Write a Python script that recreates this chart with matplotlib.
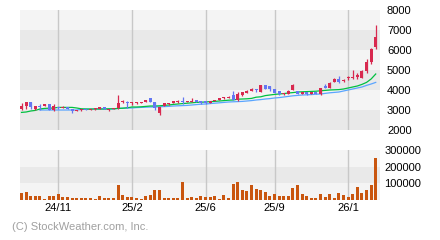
import matplotlib
matplotlib.use("Agg")
import matplotlib.pyplot as plt
import numpy as np

plt.rcParams['font.family'] = ['Liberation Sans', 'DejaVu Sans']

# weekly candles (open, high, low, close)
opens = [3050, 3200, 3400, 3050, 3170, 3200, 3300, 3000, 3150, 3110,
         3130, 3050, 2960, 2980, 3030, 2990, 3030, 3050, 3150, 3000,
         3050, 3100, 3400, 3420, 3330, 3330, 3340, 3400, 3600, 3400,
         2830, 3200, 3280, 3350, 3390, 3420, 3390, 3410, 3480, 3450,
         3450, 3350, 3450, 3500, 3580, 3600, 3750, 3480, 3750, 3850,
         3950, 4050, 3900, 4250, 4200, 4050, 3950, 3780, 3800, 4000,
         3950, 3820, 3880, 3800, 3880, 3780, 4200, 4100, 4400, 4550,
         4450, 4580, 4600, 4650, 4600, 4950, 5400, 6150]
highs = [3350, 3400, 3400, 3200, 3300, 3320, 3300, 3300, 3150, 3180,
         3130, 3050, 3020, 3050, 3050, 3050, 3100, 3170, 3160, 3060,
         3110, 3750, 3500, 3450, 3420, 3400, 3400, 3520, 3600, 3420,
         3150, 3370, 3330, 3460, 3480, 3650, 3440, 3600, 3500, 3460,
         3460, 3470, 3520, 3620, 3650, 3680, 3950, 3880, 3920, 3980,
         4080, 4060, 4270, 4270, 4220, 4070, 3970, 3840, 3980, 4280,
         3970, 3900, 3900, 3900, 3900, 4100, 4300, 4380, 4580, 4700,
         4550, 4700, 5000, 4850, 4980, 5550, 6100, 7250]
lows = [3000, 3050, 3050, 3000, 3000, 3200, 3000, 2950, 3050, 3080,
        3030, 2850, 2950, 2950, 2980, 2980, 3000, 3030, 3030, 2960,
        3030, 3050, 3330, 3100, 3230, 3320, 3330, 3380, 3400, 3000,
        2770, 3200, 3250, 3340, 3330, 3280, 3380, 3400, 3410, 3300,
        3300, 3330, 3440, 3480, 3550, 3580, 3480, 3450, 3700, 3830,
        3930, 3900, 3880, 4030, 3950, 3850, 3760, 3760, 3780, 3980,
        3780, 3800, 3750, 3780, 3800, 3760, 4080, 4080, 4380, 4350,
        4400, 4500, 4550, 4550, 4580, 4850, 5300, 6050]
closes = [3200, 3400, 3150, 3200, 3130, 3300, 3000, 3200, 3120, 3140,
          3050, 2950, 3000, 3030, 3010, 3030, 3080, 3150, 3060, 3050,
          3100, 3370, 3440, 3330, 3370, 3380, 3390, 3500, 3400, 3100,
          3150, 3350, 3310, 3450, 3420, 3390, 3420, 3440, 3420, 3330,
          3330, 3450, 3500, 3600, 3620, 3650, 3500, 3800, 3900, 3950,
          4050, 4000, 4250, 4050, 4050, 3870, 3780, 3820, 3950, 4250,
          3800, 3880, 3800, 3880, 3820, 4080, 4100, 4350, 4550, 4400,
          4520, 4620, 4650, 4750, 4950, 5400, 6050, 6650]

# moving averages as drawn on the chart
ma_short = [2880, 2900, 2950, 2980, 3050, 3080, 3090, 3100, 3130, 3130,
            3130, 3130, 3100, 3060, 3050, 3050, 3050, 3050, 3050, 3060,
            3060, 3080, 3090, 3110, 3150, 3150, 3160, 3180, 3200, 3200,
            3210, 3230, 3250, 3280, 3300, 3320, 3340, 3360, 3380, 3390,
            3400, 3420, 3430, 3450, 3470, 3490, 3500, 3540, 3550, 3560,
            3580, 3640, 3660, 3720, 3750, 3780, 3800, 3820, 3850, 3870,
            3900, 3910, 3920, 3930, 3940, 3960, 3980, 4000, 4010, 4020,
            4050, 4100, 4150, 4200, 4280, 4380, 4550, 4800]
ma_long = [None, None, None, None, 3000, 3000, 3000, 3000, 3000, 3000,
           3000, 3000, 3000, 3030, 3040, 3040, 3050, 3050, 3050, 3050,
           3050, 3080, 3090, 3100, 3100, 3120, 3130, 3140, 3150, 3150,
           3160, 3170, 3180, 3200, 3210, 3220, 3230, 3250, 3270, 3290,
           3300, 3320, 3340, 3360, 3380, 3400, 3410, 3420, 3430, 3450,
           3470, 3500, 3520, 3550, 3570, 3600, 3620, 3650, 3680, 3710,
           3730, 3750, 3760, 3770, 3790, 3800, 3830, 3860, 3880, 3900,
           3950, 4000, 4050, 4100, 4150, 4230, 4300, 4380]

volumes = [44000, 50000, 26000, 26000, 26000, 8000, 26000, 26000, 38000, 16000,
           18000, 10000, 10000, 12000, 12000, 12000, 8000, 26000, 12000, 10000,
           10000, 92000, 32000, 20000, 20000, 14000, 8000, 26000, 32000, 62000,
           62000, 14000, 14000, 14000, 14000, 110000, 14000, 18000, 14000, 24000,
           18000, 18000, 24000, 6000, 32000, 14000, 98000, 110000, 62000, 56000,
           92000, 68000, 62000, 50000, 26000, 38000, 26000, 26000, 26000, 74000,
           92000, 38000, 26000, 14000, 14000, 38000, 20000, 38000, 12000, 44000,
           32000, 18000, 38000, 80000, 44000, 62000, 92000, 254000]

tick_pos = [8, 24, 40, 55, 71]
tick_labels = ['24/11', '25/2', '25/6', '25/9', '26/1']

up_color = '#d8294f'
down_color = '#6477f2'
light = '#f4f4f4'
dark = '#e9e9e9'

fig = plt.figure(figsize=(4.4, 2.4), dpi=100)
ax = fig.add_axes([20/440, 1-130/240, 360/440, 120/240])
axv = fig.add_axes([20/440, 1-200/240, 360/440, 50/240])

x = np.arange(len(opens))
xmin, xmax = -0.33, 77.93

# price panel
for i, lo in enumerate(range(2000, 8000, 1000)):
    ax.axhspan(lo, lo + 1000, color=dark if i % 2 == 0 else light, lw=0, zorder=0)
for t in tick_pos:
    ax.axvline(t, color='#c8c8c8', lw=1, zorder=1)

ma_l = np.array([np.nan if v is None else v for v in ma_long], dtype=float)
ax.plot(x, ma_l, color='#5aa5ff', lw=0.9, zorder=2)
ax.plot(x, ma_short, color='#00c040', lw=0.9, zorder=2)

colors = [up_color if c >= o else down_color for o, c in zip(opens, closes)]
ax.vlines(x, lows, highs, colors=colors, lw=0.9, zorder=3)
bottoms = [min(o, c) for o, c in zip(opens, closes)]
heights = [max(abs(c - o), 50) for o, c in zip(opens, closes)]
ax.bar(x, heights, bottom=bottoms, width=0.65, color=colors, lw=0, zorder=4)

ax.set_xlim(xmin, xmax)
ax.set_ylim(2000, 8000)
ax.set_yticks(range(2000, 8001, 1000))
ax.yaxis.tick_right()
ax.tick_params(axis='y', length=0, pad=5, labelsize=8)
ax.set_xticks([])
for s in ax.spines.values():
    s.set_visible(False)

# volume panel
for i, lo in enumerate(range(0, 300000, 100000)):
    axv.axhspan(lo, lo + 100000, color=dark if i == 1 else light, lw=0, zorder=0)
for t in tick_pos:
    axv.axvline(t, color='#c8c8c8', lw=1, zorder=1)
axv.bar(x, volumes, width=0.65, color='#c9560f', lw=0, zorder=2)
axv.set_xlim(xmin, xmax)
axv.set_ylim(0, 300000)
axv.set_yticks([100000, 200000, 300000])
axv.yaxis.tick_right()
axv.tick_params(axis='y', length=0, pad=3, labelsize=8)
axv.set_xticks(tick_pos)
axv.set_xticklabels(tick_labels)
axv.tick_params(axis='x', length=0, pad=2, labelsize=8)
for s in axv.spines.values():
    s.set_visible(False)

fig.text(12/440, 1-227/240, '(C) StockWeather.com, Inc.', color='#a0a0a0',
         fontsize=8, va='center', ha='left')

fig.savefig('out.png', dpi=100)
